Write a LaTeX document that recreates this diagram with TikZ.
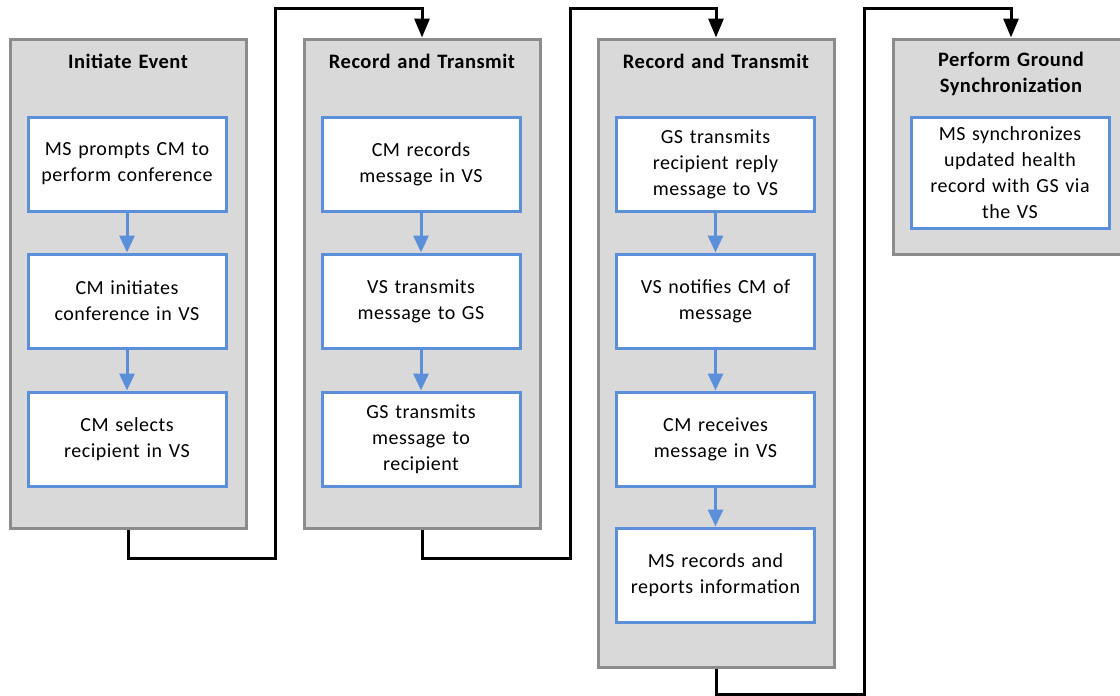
\documentclass[tikz,border=0pt]{standalone}
\usepackage{fontspec}
\setmainfont{Carlito}[LetterSpace=2.5]
\usetikzlibrary{arrows.meta,positioning}

\definecolor{groupfill}{HTML}{D9D9D9}
\definecolor{groupline}{HTML}{8C8C8C}
\definecolor{stepline}{HTML}{5B8FD9}

\tikzset{
  group/.style={draw=groupline, fill=groupfill, line width=3pt,
    minimum width=236pt, inner sep=0pt},
  grouptitle/.style={font=\fontsize{20.5}{26}\selectfont\bfseries, align=center,
    text width=225pt, inner sep=0pt},
  stepbox/.style={draw=stepline, fill=white, line width=3pt,
    minimum width=198pt, minimum height=94pt, text width=190pt,
    align=center, inner sep=0pt, font=\fontsize{20}{26}\selectfont},
  stepflow/.style={draw=stepline, line width=3pt,
    -{Triangle[width=15pt,length=17pt]}},
  phaseflow/.style={draw=black, line width=3pt, line join=miter,
    -{Triangle[width=15pt,length=19pt]}}
}

\begin{document}
\begin{tikzpicture}[x=1pt,y=-1pt]
  \useasboundingbox (0,0) rectangle (1120,696);
  \clip (0,0) rectangle (1120,696);

  % phase containers
  \node[group, minimum height=489pt] (g1) at (128,283.5) {};
  \node[group, minimum height=489pt] (g2) at (422,283.5) {};
  \node[group, minimum height=628pt] (g3) at (716,353) {};
  \node[group, minimum height=215pt] (g4) at (1011,146.5) {};

  % phase titles
  \node[grouptitle] (t1) at (128,61) {Initiate Event};
  \node[grouptitle] (t2) at (422,61) {Record and Transmit};
  \node[grouptitle] (t3) at (716,61) {Record and Transmit};
  \node[grouptitle] (t4) at (1011,74) {Perform Ground\\Synchronization};

  % phase 1 steps
  \node[stepbox] (a1) at (127,164) {MS prompts CM to\\perform conference};
  \node[stepbox] (a2) at (127,301) {CM initiates\\conference in VS};
  \node[stepbox] (a3) at (127,439) {CM selects\\recipient in VS};

  % phase 2 steps
  \node[stepbox] (b1) at (421,164) {CM records\\message in VS};
  \node[stepbox] (b2) at (421,301) {VS transmits\\message to GS};
  \node[stepbox] (b3) at (421,439) {GS transmits\\message to\\recipient};

  % phase 3 steps
  \node[stepbox] (c1) at (715.5,164) {GS transmits\\recipient reply\\message to VS};
  \node[stepbox] (c2) at (715.5,301) {VS notifies CM of\\message};
  \node[stepbox] (c3) at (715.5,439) {CM receives\\message in VS};
  \node[stepbox] (c4) at (715.5,575) {MS records and\\reports information};

  % phase 4 step
  \node[stepbox, minimum height=111pt] (d1) at (1010,172.5)
    {MS synchronizes\\updated health\\record with GS via\\the VS};

  % arrows inside phases
  \draw[stepflow] (a1) -- (a2);
  \draw[stepflow] (a2) -- (a3);
  \draw[stepflow] (b1) -- (b2);
  \draw[stepflow] (b2) -- (b3);
  \draw[stepflow] (c1) -- (c2);
  \draw[stepflow] (c2) -- (c3);
  \draw[stepflow] (c3) -- (c4);

  % hand-over routes between phases
  \coordinate (r1a) at (275,558);
  \coordinate (r1b) at (275,8);
  \coordinate (r2a) at (570,558);
  \coordinate (r2b) at (570,8);
  \coordinate (r3a) at (864,694);
  \coordinate (r3b) at (864,8);

  \draw[phaseflow] (g1.south) |- (r1a) -- (r1b) -| (g2.north);
  \draw[phaseflow] (g2.south) |- (r2a) -- (r2b) -| (g3.north);
  \draw[phaseflow] (g3.south) |- (r3a) -- (r3b) -| (g4.north);
\end{tikzpicture}
\end{document}
